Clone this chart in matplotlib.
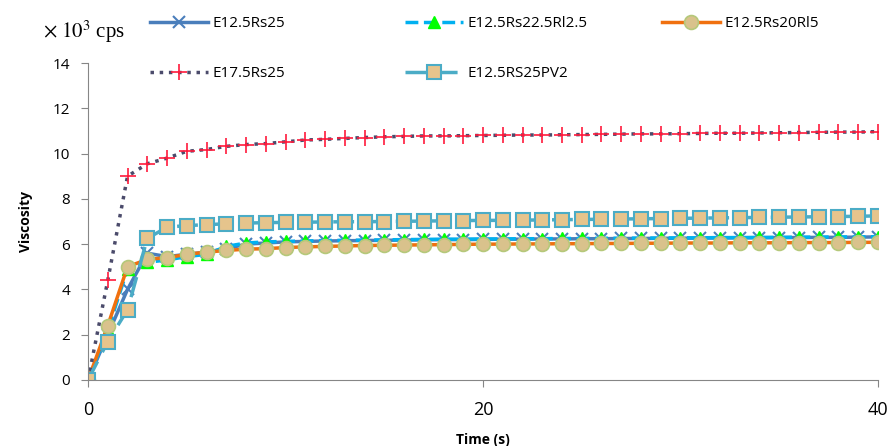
import numpy as np
import matplotlib.pyplot as plt

time_s = list(range(41))

rs25 = [0, 2.0, 4.0, 5.6, 5.45, 5.55, 5.65, 5.8, 6.0, 6.05, 6.1, 6.12, 6.14, 6.15, 6.16, 6.17, 6.18, 6.19, 6.2, 6.2,
        6.21, 6.22, 6.22, 6.23, 6.23, 6.24, 6.24, 6.25, 6.25, 6.26, 6.26, 6.27, 6.27, 6.28, 6.28, 6.29, 6.29, 6.3, 6.3, 6.31, 6.32]
rs225rl25 = [0, 2.2, 4.9, 5.2, 5.3, 5.45, 5.55, 5.9, 6.05, 6.1, 6.12, 6.14, 6.16, 6.17, 6.18, 6.19, 6.2, 6.21, 6.22, 6.22,
             6.23, 6.23, 6.24, 6.24, 6.25, 6.25, 6.26, 6.26, 6.27, 6.27, 6.28, 6.28, 6.29, 6.29, 6.3, 6.3, 6.31, 6.31, 6.32, 6.32, 6.33]
rs20rl5 = [0, 2.4, 5.0, 5.33, 5.4, 5.55, 5.65, 5.72, 5.78, 5.8, 5.85, 5.88, 5.9, 5.92, 5.94, 5.95, 5.96, 5.97, 5.98, 5.99,
           6.0, 6.0, 6.01, 6.01, 6.02, 6.02, 6.03, 6.03, 6.04, 6.04, 6.05, 6.05, 6.05, 6.06, 6.06, 6.06, 6.07, 6.07, 6.07, 6.08, 6.08]
e175rs25 = [0, 4.4, 9.0, 9.55, 9.8, 10.1, 10.18, 10.32, 10.4, 10.44, 10.52, 10.6, 10.63, 10.67, 10.71, 10.74, 10.76, 10.78, 10.78, 10.79,
            10.8, 10.81, 10.82, 10.82, 10.83, 10.84, 10.85, 10.86, 10.87, 10.87, 10.88, 10.89, 10.9, 10.9, 10.91, 10.92, 10.93, 10.94, 10.95, 10.95, 10.97]
rs25pv2 = [0, 1.7, 3.1, 6.25, 6.75, 6.82, 6.86, 6.9, 6.93, 6.95, 6.96, 6.97, 6.98, 6.99, 6.99, 7.0, 7.01, 7.02, 7.03, 7.04,
           7.05, 7.05, 7.06, 7.07, 7.08, 7.09, 7.1, 7.11, 7.12, 7.13, 7.14, 7.15, 7.16, 7.17, 7.18, 7.19, 7.2, 7.21, 7.22, 7.23, 7.25]

plt.rcParams['font.family'] = ['Open Sans', 'DejaVu Sans']
plt.rcParams['mathtext.fontset'] = 'stix'

fig = plt.figure(figsize=(8.9, 4.46), dpi=100)
ax = fig.add_axes([0.0989, 0.148, 0.8876, 0.7107])

h0, = ax.plot(time_s, rs25, '-', color='#4A7EBB', lw=2.5, marker='x', ms=8, mec='#4A7EBB', mew=1.5,
              label='E12.5Rs25')
h1, = ax.plot(time_s, rs225rl25, '--', color='#00B0F0', lw=2.5, marker='^', ms=8, mfc='#00FF00', mec='#00FF00',
              label='E12.5Rs22.5Rl2.5')
h2, = ax.plot(time_s, rs20rl5, '-', color='#F0700F', lw=2.5, marker='o', ms=10, mfc='#D9C28C', mec='#B5C87A', mew=1.2,
              label='E12.5Rs20Rl5')
h3, = ax.plot(time_s, e175rs25, ':', color='#4B4B6B', lw=2.5, marker='+', ms=12, mec='#FF1A3C', mew=1.2,
              label='E17.5Rs25')
h4, = ax.plot(time_s, rs25pv2, color='#4BACC6', lw=2.5, dashes=(6, 3), marker='s', ms=10, mfc='#E6C48C', mec='#4BACC6',
              mew=1.5, label='E12.5RS25PV2')

ax.set_xlim(0, 40)
ax.set_ylim(0, 14)
ax.set_xticks([0, 20, 40])
ax.set_yticks(range(0, 15, 2))
ax.tick_params(axis='x', labelsize=13, length=5, color='#868686', pad=10)
ax.tick_params(axis='y', labelsize=11, length=5, color='#868686', pad=8)
for s in ['top', 'right']:
    ax.spines[s].set_visible(False)
for s in ['left', 'bottom']:
    ax.spines[s].set_color('#868686')
ax.set_xlabel('Time (s)', fontsize=10, fontweight='bold', labelpad=10)
ax.set_ylabel('Viscosity', fontsize=10, fontweight='bold', labelpad=14)

fig.text(0.048, 0.928, r'$\times\ 10^3$ cps', fontsize=15, va='center', family='Liberation Serif')

# one legend per column so the columns line up like the original
columns = [([h0, h3], ['E12.5Rs25', 'E17.5Rs25'], 0.1685),
           ([h1, h4], ['E12.5Rs22.5Rl2.5', 'E12.5RS25PV2'], 0.455),
           ([h2], ['E12.5Rs20Rl5'], 0.744)]
for hs, labs, x0 in columns:
    fig.legend(hs, labs, loc='upper left', bbox_to_anchor=(x0, 0.964), frameon=False, fontsize=11,
               borderpad=0, borderaxespad=0, handlelength=3.8, labelspacing=2.3, handletextpad=0.3)

fig.savefig('out.png', dpi=100)
